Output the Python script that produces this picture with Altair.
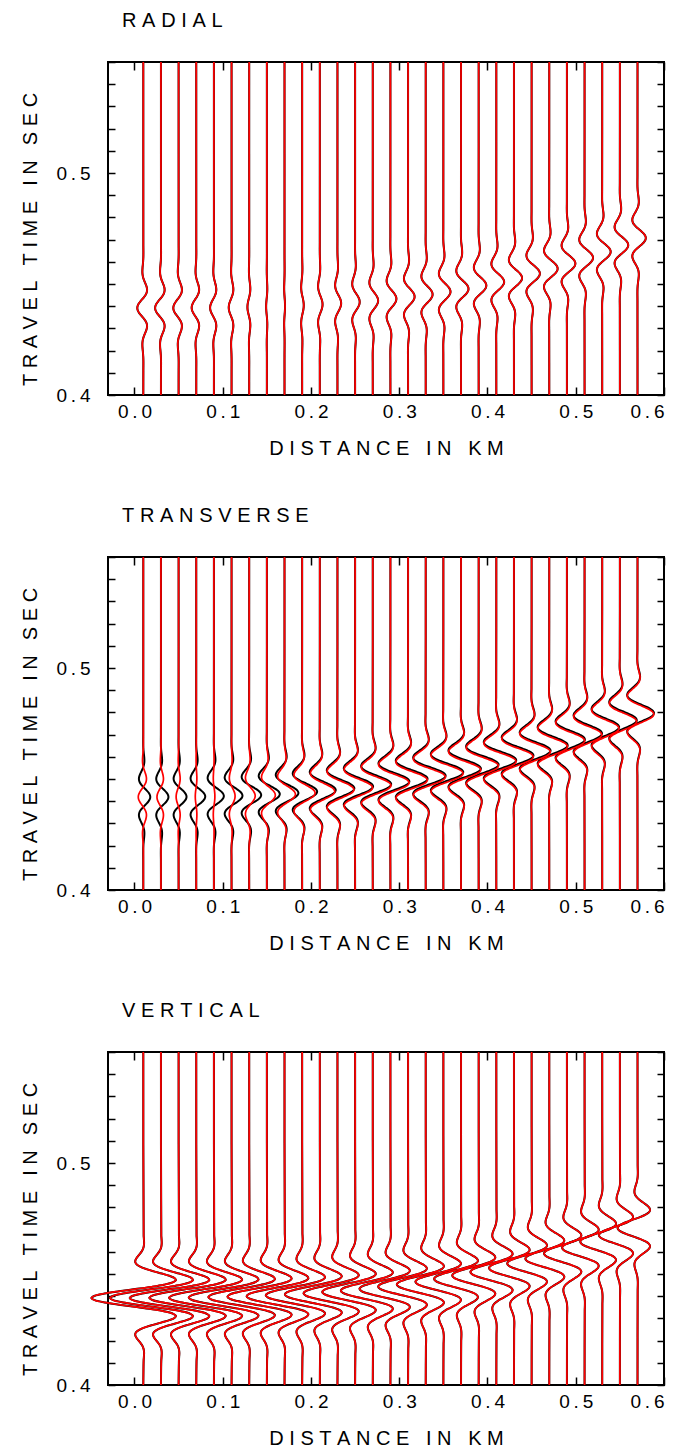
import altair as alt
import pandas as pd

FONT = "Liberation Sans"
NB = "\u00a0"
TH = "\u2009"

# ---------------- data ----------------
OFFSETS_KM = [0.01, 0.03, 0.05, 0.07, 0.09, 0.11, 0.13, 0.15, 0.17, 0.19,
              0.21, 0.23, 0.25, 0.27, 0.29, 0.31, 0.33, 0.35, 0.37, 0.39,
              0.41, 0.43, 0.45, 0.47, 0.49, 0.51, 0.53, 0.55, 0.57]

# wavelet samples (1 ms apart), shape
WAVELET_LAG_S = [k / 1000 for k in range(-28, 29)]
WAVELET = [-0.007, -0.010, -0.013, -0.015, -0.013, -0.006, 0.008, 0.031, 0.062, 0.097,
           0.130, 0.152, 0.153, 0.121, 0.051, -0.060, -0.202, -0.357, -0.501, -0.600,
           -0.628, -0.563, -0.399, -0.148, 0.157, 0.472, 0.747, 0.934, 1.000,
           0.934, 0.747, 0.472, 0.157, -0.148, -0.399, -0.563, -0.628, -0.600, -0.501,
           -0.357, -0.202, -0.060, 0.051, 0.121, 0.153, 0.152, 0.130, 0.097, 0.062,
           0.031, 0.008, -0.006, -0.013, -0.015, -0.013, -0.010, -0.007]

# arrival time (s) of the main lobe for each trace
P_ARRIVAL = [0.4392, 0.4392, 0.4392, 0.4393, 0.4393, 0.4394, 0.4396, 0.4398, 0.4400, 0.4404,
             0.4408, 0.4413, 0.4419, 0.4425, 0.4433, 0.4443, 0.4453, 0.4465, 0.4478, 0.4493,
             0.4509, 0.4527, 0.4547, 0.4569, 0.4592, 0.4618, 0.4645, 0.4675, 0.4707]
T_ARRIVAL_BLACK = [0.4419, 0.4419, 0.4420, 0.4421, 0.4423, 0.4425, 0.4428, 0.4432, 0.4437, 0.4443,
                   0.4450, 0.4458, 0.4467, 0.4477, 0.4489, 0.4501, 0.4515, 0.4531, 0.4547, 0.4565,
                   0.4585, 0.4606, 0.4628, 0.4652, 0.4678, 0.4705, 0.4734, 0.4765, 0.4797]
T_ARRIVAL_RED = [0.4419, 0.4419, 0.4420, 0.4421, 0.4422, 0.4423, 0.4424, 0.4427, 0.4431, 0.4437,
                 0.4444, 0.4452, 0.4461, 0.4471, 0.4483, 0.4495, 0.4509, 0.4525, 0.4541, 0.4559,
                 0.4579, 0.4600, 0.4622, 0.4646, 0.4672, 0.4699, 0.4728, 0.4759, 0.4792]

# main-lobe amplitude (km of trace deflection)
RADIAL_AMP = [-0.0068, -0.0066, -0.0060, -0.0052, -0.0043, -0.0032, -0.0020, -0.0008, 0.0006, 0.0018,
              0.0031, 0.0042, 0.0052, 0.0061, 0.0068, 0.0074, 0.0078, 0.0081, 0.0085, 0.0087,
              0.0089, 0.0092, 0.0094, 0.0095, 0.0096, 0.0096, 0.0096, 0.0095, 0.0094]
TRANS_AMP_BLACK = [0.0079, 0.0085, 0.0090, 0.0102, 0.0113, 0.0124, 0.0136, 0.0147, 0.0158, 0.0170,
                   0.0181, 0.0192, 0.0204, 0.0209, 0.0215, 0.0221, 0.0226, 0.0226, 0.0226, 0.0226,
                   0.0226, 0.0221, 0.0215, 0.0209, 0.0204, 0.0198, 0.0192, 0.0192, 0.0187]
TRANS_AMP_RED = [-0.0057, -0.0045, -0.0028, -0.0011, 0.0011, 0.0040, 0.0068, 0.0096, 0.0124, 0.0147,
                 0.0170, 0.0187, 0.0198, 0.0207, 0.0213, 0.0219, 0.0224, 0.0224, 0.0224, 0.0224,
                 0.0224, 0.0219, 0.0213, 0.0207, 0.0202, 0.0196, 0.0190, 0.0190, 0.0185]
VERT_AMP = [-0.0588, -0.0577, -0.0554, -0.0532, -0.0509, -0.0486, -0.0464, -0.0447, -0.0430, -0.0413,
            -0.0396, -0.0385, -0.0373, -0.0362, -0.0351, -0.0339, -0.0328, -0.0317, -0.0305, -0.0300,
            -0.0294, -0.0283, -0.0277, -0.0271, -0.0260, -0.0255, -0.0249, -0.0238, -0.0226]

PANEL_TITLES = ["RADIAL", "TRANSVERSE", "VERTICAL"]
X_TITLE = "DISTANCE IN KM"
Y_TITLE = "TRAVEL TIME IN SEC"
X_DOMAIN = [-0.03, 0.6]
Y_DOMAIN = [0.4, 0.55]
X_TICKS = [0.0, 0.1, 0.2, 0.3, 0.4, 0.5, 0.6]
Y_LABEL_TICKS = [0.4, 0.5]
Y_TICKS = [0.40, 0.41, 0.42, 0.43, 0.44, 0.45, 0.46, 0.47, 0.48, 0.49,
           0.50, 0.51, 0.52, 0.53, 0.54, 0.55]

W, H = 556, 333


def spaced(text, letter_gap=NB, word_gap=NB * 3):
    return word_gap.join(letter_gap.join(list(w)) for w in text.split(" "))


def build_table(series_defs):
    rows = []
    n = len(WAVELET)
    for series, arrivals, amps in series_defs:
        for i, x0 in enumerate(OFFSETS_KM):
            rows.append({"series": series, "trace": i, "k": 0, "t": Y_DOMAIN[0], "x": x0})
            for k, (lag, w) in enumerate(zip(WAVELET_LAG_S, WAVELET), start=1):
                rows.append({"series": series, "trace": i, "k": k,
                             "t": round(arrivals[i] + lag, 5),
                             "x": round(x0 + amps[i] * w, 5)})
            rows.append({"series": series, "trace": i, "k": n + 1, "t": Y_DOMAIN[1], "x": x0})
    return pd.DataFrame(rows)


def panel(title, df):
    xs = alt.Scale(domain=X_DOMAIN, nice=False, zero=False)
    ys = alt.Scale(domain=Y_DOMAIN, nice=False, zero=False)
    label_expr = f"replace(format(datum.value, '.1f'), '.', '{TH}.{TH}')"
    common = dict(domain=False, grid=False, tickColor="black", tickWidth=1.5,
                  labelFont=FONT, labelFontSize=19, labelColor="black",
                  titleFont=FONT, titleFontSize=20, titleFontWeight="normal",
                  titleColor="black")
    x_lab = alt.Axis(orient="bottom", values=X_TICKS, ticks=False, labelExpr=label_expr,
                     labelPadding=7, title=spaced(X_TITLE, NB, NB * 3), titleY=59,
                     titleBaseline="alphabetic", **common)
    y_lab = alt.Axis(orient="left", values=Y_LABEL_TICKS, ticks=False, labelExpr=label_expr,
                     labelPadding=18, title=spaced(Y_TITLE, NB, NB * 2 + TH), titleAngle=270,
                     titleX=-72, titleY=177, titleBaseline="alphabetic", titleAlign="center",
                     **common)
    x_in_bottom = alt.Axis(orient="top", offset=-H, values=X_TICKS, labels=False,
                           tickSize=8, title=None, **common)
    y_in_left = alt.Axis(orient="right", offset=-W, values=Y_TICKS, labels=False,
                         tickSize=7, title=None, **common)
    x_in_top = alt.Axis(orient="bottom", offset=-H, values=X_TICKS, labels=False,
                        tickSize=8, title=None, **common)
    y_in_right = alt.Axis(orient="left", offset=-W, values=Y_TICKS, labels=False,
                          tickSize=7, title=None, **common)

    base = alt.Chart(df)
    black = base.transform_filter("datum.series == 'black'").mark_line(
        color="black", strokeWidth=2.0, interpolate="catmull-rom"
    ).encode(
        x=alt.X("x:Q", scale=xs, axis=x_lab),
        y=alt.Y("t:Q", scale=ys, axis=y_lab),
        detail="trace:N",
        order=alt.Order("k:Q"),
    )
    red = base.transform_filter("datum.series == 'red'").mark_line(
        color="#ff0000", strokeWidth=1.7, interpolate="catmull-rom"
    ).encode(
        x=alt.X("x:Q", scale=xs, axis=x_in_bottom),
        y=alt.Y("t:Q", scale=ys, axis=y_in_left),
        detail="trace:N",
        order=alt.Order("k:Q"),
    )
    ghost = base.transform_filter(
        "datum.series == 'black' && datum.k == 0 && datum.trace == 0"
    ).mark_point(opacity=0).encode(
        x=alt.X("x:Q", scale=xs, axis=x_in_top),
        y=alt.Y("t:Q", scale=ys, axis=y_in_right),
    )
    return alt.layer(black, red, ghost).resolve_axis(
        x="independent", y="independent"
    ).properties(
        width=W, height=H,
        title=alt.TitleParams(spaced(title, TH + "\u200a", NB), anchor="start", frame="group",
                              dx=14, offset=27, font=FONT, fontSize=20, fontWeight="normal",
                              color="black"),
    )


radial_df = build_table([("black", P_ARRIVAL, RADIAL_AMP), ("red", P_ARRIVAL, RADIAL_AMP)])
trans_df = build_table([("black", T_ARRIVAL_BLACK, TRANS_AMP_BLACK),
                        ("red", T_ARRIVAL_RED, TRANS_AMP_RED)])
vert_df = build_table([("black", P_ARRIVAL, VERT_AMP), ("red", P_ARRIVAL, VERT_AMP)])

chart = alt.vconcat(
    panel(PANEL_TITLES[0], radial_df),
    panel(PANEL_TITLES[1], trans_df),
    panel(PANEL_TITLES[2], vert_df),
    spacing=162, bounds="flush",
).properties(
    padding={"left": 11, "top": 2, "right": 5, "bottom": 2}
).configure(font=FONT).configure_view(
    stroke="black", strokeWidth=2
)

chart.save("out.html", embed_options={"renderer": "svg", "actions": False})
